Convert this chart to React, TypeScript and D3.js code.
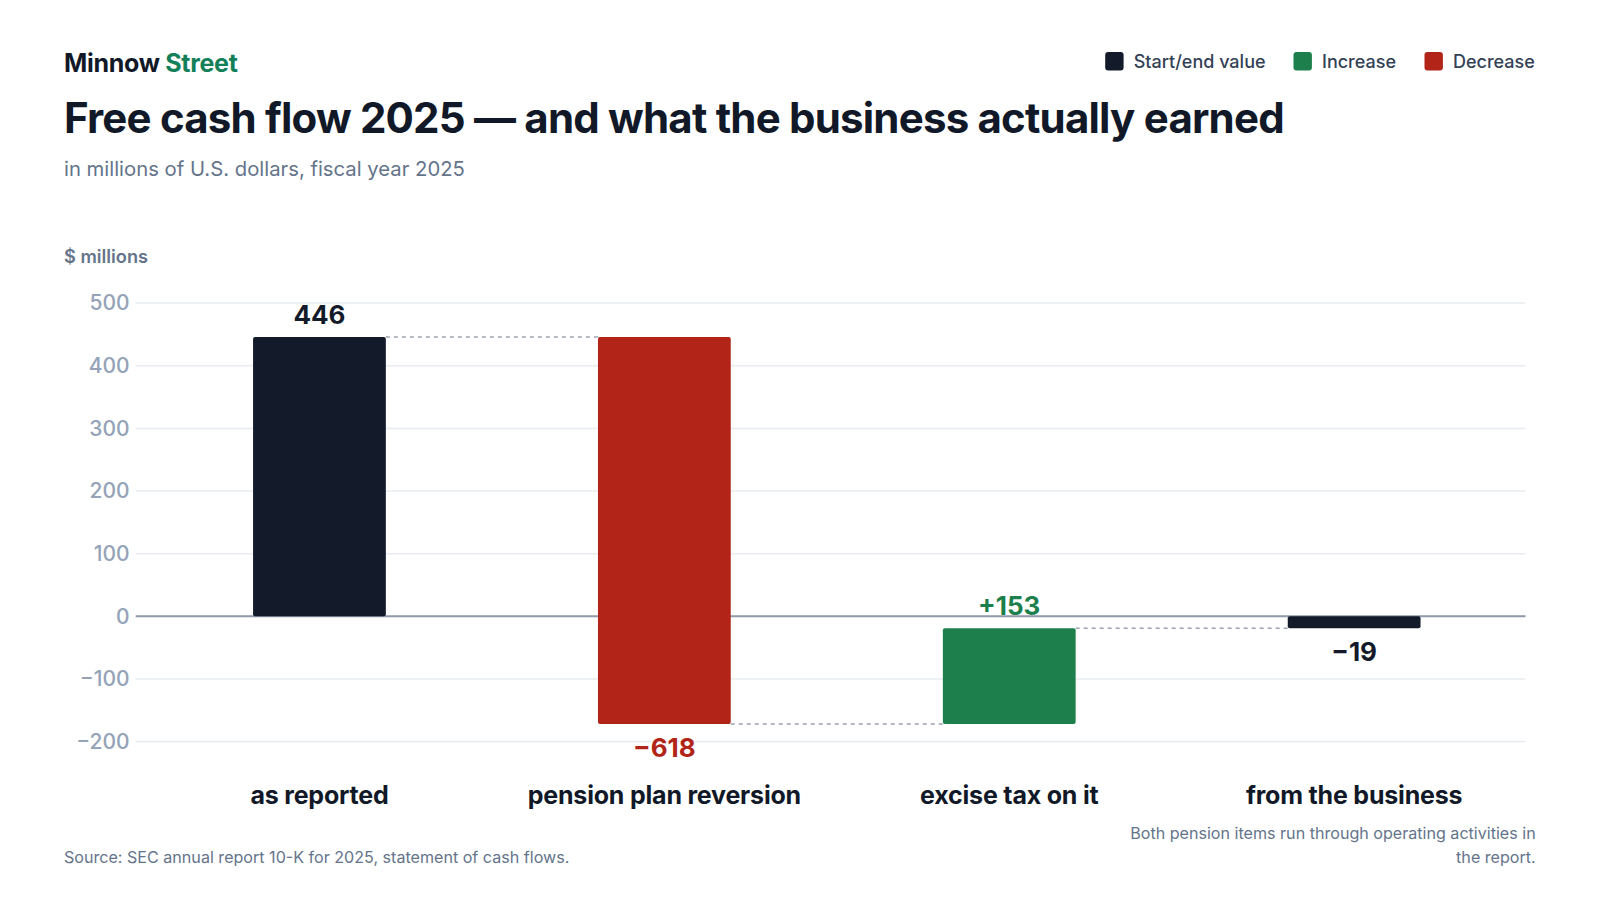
import * as d3 from 'd3';

const categories = ['as reported', 'pension plan reversion', 'excise tax on it', 'from the business'];
const changes = [446, -618, 153, -19];
const kinds = ['total', 'decrease', 'increase', 'total'];
const valueLabels = ['446', '\u2212618', '+153', '\u221219'];
const yTicks = [-200, -100, 0, 100, 200, 300, 400, 500];

const legendItems = [
  { label: 'Start/end value', kind: 'total' },
  { label: 'Increase', kind: 'increase' },
  { label: 'Decrease', kind: 'decrease' },
];

const colors: Record<string, string> = {
  total: '#131a2a',
  increase: '#1c7f4c',
  decrease: '#b22318',
};

const W = 1600;
const H = 900;
const FONT = 'Inter, "Noto Sans", sans-serif';

export default function App() {
  const x = d3.scaleBand<string>().domain(categories).range([147, 1526.6]).padding(0);
  const y = d3.scaleLinear().domain([0, 500]).range([616.3, 303.1]);
  const barW = x.step() * 0.385;
  const gridL = 135.7;
  const gridR = 1525.5;

  // running waterfall
  let running = 0;
  const bars = categories.map((c, i) => {
    let from: number, to: number;
    if (kinds[i] === 'total') {
      from = 0;
      to = i === 0 ? changes[i] : running;
      running = to;
    } else {
      from = running;
      to = running + changes[i];
      running = to;
    }
    return { c, from, to, kind: kinds[i], label: valueLabels[i], i };
  });

  const fmt = (v: number) => (v < 0 ? '\u2212' + Math.abs(v) : String(v));

  // legend laid out right-to-left from the right margin
  const legendWidths = [133.3, 76, 82.7];
  let lx = 1535.7;
  const legendPos: number[] = [];
  for (let i = legendItems.length - 1; i >= 0; i--) {
    lx -= legendWidths[i] + 28.5;
    legendPos[i] = lx;
    lx -= 26.5;
  }

  return (
    <svg width={W} height={H} style={{ position: 'absolute', left: 0, top: 0, fontFamily: FONT }}>
      <rect width={W} height={H} fill="#ffffff" />

      <text x={64} y={71.5} fontSize={25} fontWeight={700} fill="#111827" letterSpacing={-0.3}>
        Minnow <tspan fill="#13805a">Street</tspan>
      </text>
      <text x={64} y={133} fontSize={42} fontWeight={700} fill="#111827" letterSpacing={-0.8}>
        Free cash flow 2025 — and what the business actually earned
      </text>
      <text x={64} y={175.5} fontSize={20.3} fill="#64748b">
        in millions of U.S. dollars, fiscal year 2025
      </text>

      {legendItems.map((d, i) => (
        <g key={d.label} transform={`translate(${legendPos[i]},61.2)`}>
          <rect x={0} y={-9.2} width={18.4} height={18.4} rx={3} fill={colors[d.kind]} />
          <text x={28.5} y={6.8} fontSize={18} fontWeight={500} fill="#334155">
            {d.label}
          </text>
        </g>
      ))}

      <text x={64} y={263.3} fontSize={18.2} fontWeight={600} fill="#64748b">
        $ millions
      </text>

      {yTicks.map((t) => (
        <g key={t}>
          {t !== 0 && <line x1={gridL} x2={gridR} y1={y(t)} y2={y(t)} stroke="#e8ecf1" strokeWidth={1.5} />}
          <text x={129.6} y={y(t)} dy="0.35em" textAnchor="end" fontSize={21} fontWeight={500} fill="#94a3b8">
            {fmt(t)}
          </text>
        </g>
      ))}

      {/* zero baseline sits beneath the bars */}
      <line x1={gridL} x2={gridR} y1={y(0)} y2={y(0)} stroke="#8e99aa" strokeWidth={2} />

      {bars.slice(0, -1).map((b, i) => {
        const next = bars[i + 1];
        const x1 = (x(b.c) ?? 0) + x.step() / 2 + barW / 2;
        const x2 = (x(next.c) ?? 0) + x.step() / 2 - barW / 2;
        return (
          <line key={'c' + i} x1={x1} x2={x2} y1={y(b.to)} y2={y(b.to)} stroke="#9ca3af" strokeWidth={1.5} strokeDasharray="4,4" />
        );
      })}

      {bars.map((b) => {
        const cx = (x(b.c) ?? 0) + x.step() / 2;
        const top = y(Math.max(b.from, b.to));
        const bottom = y(Math.min(b.from, b.to));
        const above = b.kind === 'increase' || (b.kind === 'total' && b.to >= 0);
        const labelColor = b.kind === 'total' ? '#131a2a' : colors[b.kind];
        return (
          <g key={b.c}>
            <rect x={cx - barW / 2} y={top} width={barW} height={bottom - top} rx={2} fill={colors[b.kind]} />
            <text
              x={cx}
              y={above ? top - 13.3 : bottom + 33}
              textAnchor="middle"
              fontSize={26}
              fontWeight={700}
              fill={labelColor}
            >
              {b.label}
            </text>
            <text x={cx} y={804} textAnchor="middle" fontSize={25} fontWeight={700} fill="#111827" letterSpacing={-0.2}>
              {b.c}
            </text>
          </g>
        );
      })}

      <text x={64} y={863} fontSize={16.1} fill="#64748b">
        Source: SEC annual report 10-K for 2025, statement of cash flows.
      </text>
      <text x={1535.7} y={838.8} textAnchor="end" fontSize={16.1} fill="#64748b">
        Both pension items run through operating activities in
      </text>
      <text x={1535.7} y={863} textAnchor="end" fontSize={16.1} fill="#64748b">
        the report.
      </text>
    </svg>
  );
}
